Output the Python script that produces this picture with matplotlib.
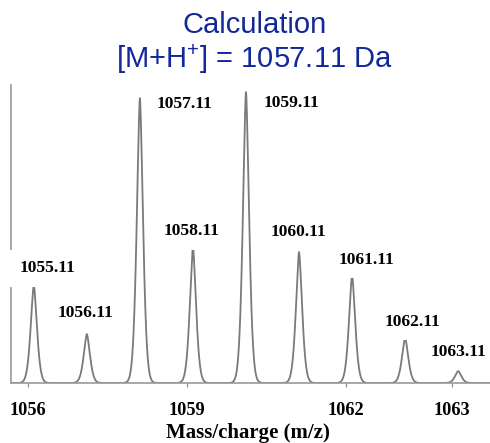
import numpy as np
import matplotlib
matplotlib.use("Agg")
import matplotlib.pyplot as plt

# Isotope peak positions (m/z) and relative intensities
peak_mz = [1055.11, 1056.11, 1057.11, 1058.11, 1059.11, 1060.11, 1061.11, 1062.11, 1063.11]
peak_int = [33.7, 16.8, 97.9, 46.7, 100.0, 45.0, 37.0, 15.5, 4.1]
peak_labels = ["1055.11", "1056.11", "1057.11", "1058.11", "1059.11",
               "1060.11", "1061.11", "1062.11", "1063.11"]

# Axis ticks
tick_pos = [1055.0, 1058.0, 1061.0, 1063.0]
tick_labels = ["1056", "1059", "1062", "1063"]

# Label centre offsets (dx in m/z, y in intensity units) for each peak
label_dx = [0.26, -0.03, 0.84, -0.02, 0.85, -0.01, 0.28, 0.14, 0.0]
label_y = [39.5, 24.1, 95.9, 52.2, 96.2, 51.9, 42.3, 21.0, 10.7]

plt.rcParams["mathtext.fontset"] = "custom"
plt.rcParams["mathtext.rm"] = "Liberation Sans"

fig = plt.figure(figsize=(4.9, 4.43), dpi=100)
ax = fig.add_axes([11 / 490, 60 / 443, 1 - 11 / 490, 298 / 443])

# Peak profile: slightly sharper than a Gaussian
x = np.linspace(1054.5, 1064.0, 8000)
width = 0.085
y = np.zeros_like(x)
for mz, h in zip(peak_mz, peak_int):
    y += h * np.exp(-(np.abs(x - mz) / width) ** 1.6)
ax.plot(x, y, color="#7a7a7a", lw=1.3, zorder=2)

serif_bold = dict(family="Liberation Serif", weight="bold")
for mz, dx, ly, lab in zip(peak_mz, label_dx, label_y, peak_labels):
    ax.text(mz + dx, ly, lab, ha="center", va="center", fontsize=12.6, color="black",
            bbox=dict(boxstyle="square,pad=0.6", fc="white", ec="none"), zorder=3, **serif_bold)

ax.set_xlim(1054.68, 1063.71)
ax.set_ylim(0, 102.4)
ax.set_yticks([])
ax.set_xticks(tick_pos)
ax.set_xticklabels(tick_labels, fontsize=13.2, **serif_bold)
ax.tick_params(axis="x", length=3, color="#888888", pad=11)
for side in ("top", "right"):
    ax.spines[side].set_visible(False)
for side in ("left", "bottom"):
    ax.spines[side].set_color("#999999")
    ax.spines[side].set_linewidth(1.2)

fig.text(248 / 490, 1 - 433 / 443, "Mass/charge (m/z)", ha="center", va="center",
         fontsize=15.0, **serif_bold)

title_color = "#12289a"
fig.text(255 / 490, 1 - 25 / 443, "Calculation", ha="center", va="center",
         fontsize=21, color=title_color, family="Liberation Sans")
fig.text(254 / 490, 1 - 59 / 443, r"[M+H$^{+}$] = 1057.11 Da", ha="center", va="center",
         fontsize=21, color=title_color, family="Liberation Sans")

fig.savefig("out.png", dpi=100, facecolor="white")
